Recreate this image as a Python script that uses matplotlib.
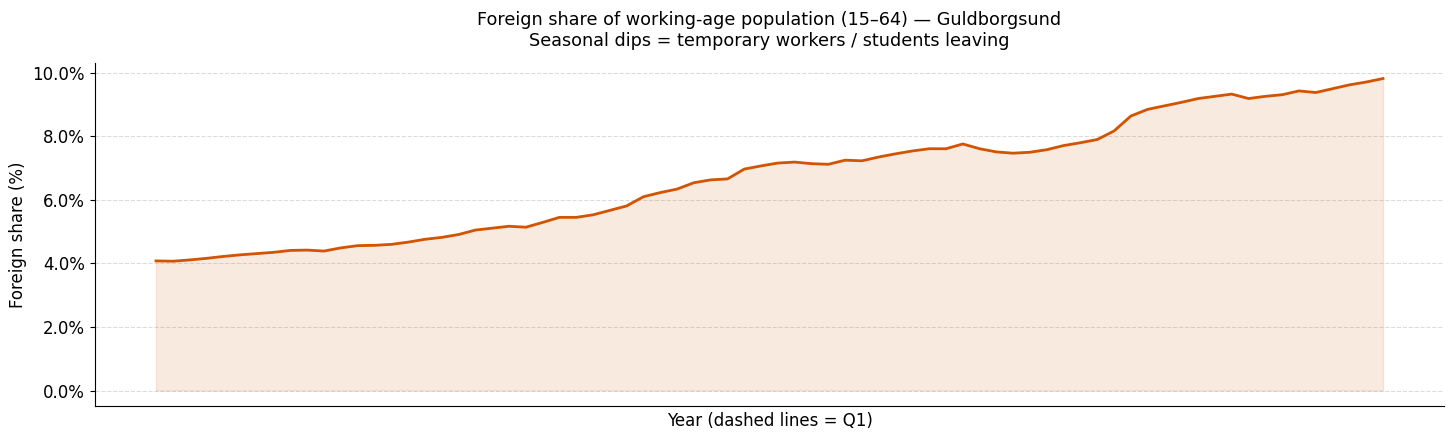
import matplotlib.pyplot as plt
import numpy as np
from matplotlib.ticker import PercentFormatter

# quarterly foreign share (%) of the 15-64 population
share_pct = [
    4.08, 4.07, 4.11, 4.16, 4.22, 4.27, 4.31, 4.35, 4.41, 4.42,
    4.39, 4.49, 4.56, 4.57, 4.60, 4.67, 4.76, 4.82, 4.91, 5.05,
    5.11, 5.17, 5.14, 5.29, 5.45, 5.45, 5.53, 5.67, 5.81, 6.10,
    6.23, 6.34, 6.54, 6.63, 6.66, 6.97, 7.07, 7.16, 7.19, 7.14,
    7.12, 7.25, 7.23, 7.35, 7.45, 7.54, 7.61, 7.61, 7.76, 7.61,
    7.51, 7.47, 7.50, 7.58, 7.71, 7.80, 7.90, 8.17, 8.64, 8.85,
    8.96, 9.07, 9.19, 9.26, 9.33, 9.19, 9.26, 9.31, 9.43, 9.38,
    9.50, 9.62, 9.71, 9.82,
]

title = "Foreign share of working-age population (15\u201364) \u2014 Guldborgsund\nSeasonal dips = temporary workers / students leaving"
line_color = "#d35400"

x = np.arange(len(share_pct))
y = np.array(share_pct)

fig, ax = plt.subplots(figsize=(14.56, 4.4), dpi=100)
fig.subplots_adjust(left=0.065, right=0.992, top=0.857, bottom=0.077)

ax.fill_between(x, 0, y, color=line_color, alpha=0.12)
ax.plot(x, y, color=line_color, linewidth=2)

ax.yaxis.set_major_formatter(PercentFormatter(decimals=1))
ax.set_xticks([])
ax.grid(axis="y", linestyle="--", color="#cccccc", alpha=0.7)
ax.set_axisbelow(True)
for side in ("top", "right"):
    ax.spines[side].set_visible(False)

ax.tick_params(axis="y", labelsize=12)
ax.set_ylabel("Foreign share (%)", fontsize=12)
ax.set_xlabel("Year (dashed lines = Q1)", fontsize=12)
ax.set_title(title, fontsize=12.7, pad=12)

fig.savefig("out.png")
